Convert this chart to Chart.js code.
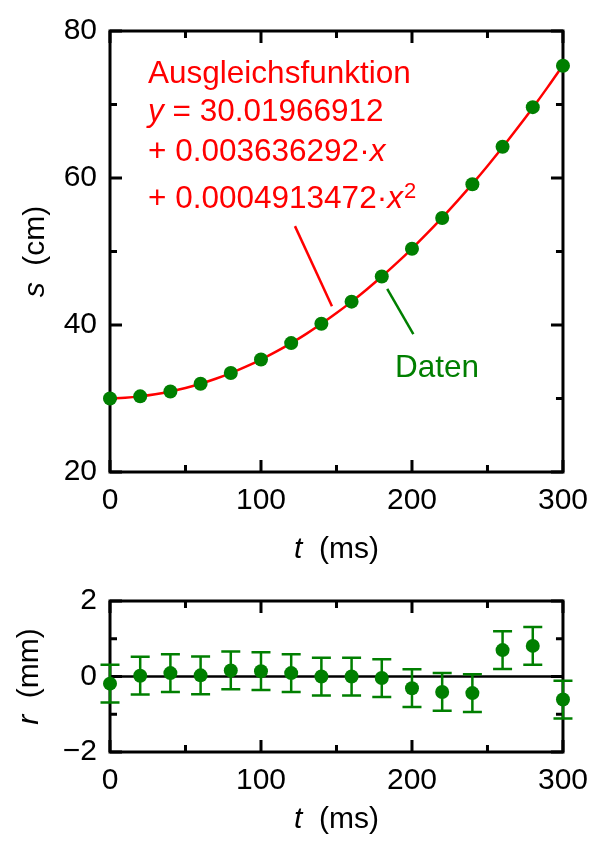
<!DOCTYPE html>
<html>
<head>
<meta charset="utf-8">
<script src="https://cdn.jsdelivr.net/npm/chart.js@4.4.1/dist/chart.umd.min.js"></script>
<style>
  html, body { margin: 0; padding: 0; background: #fff; }
  .panel { position: absolute; left: 0; width: 599px; }
  #top-panel { top: 0; height: 570px; }
  #bottom-panel { top: 570px; height: 271px; }
</style>
</head>
<body>
<div id="top-panel" class="panel"><canvas id="top-chart"></canvas></div>
<div id="bottom-panel" class="panel"><canvas id="bottom-chart"></canvas></div>
<script>
const FONT = '"Liberation Sans", Arial, Helvetica, sans-serif';
const GREEN = '#007f00';
const RED = '#ff0000';

// Messpunkte
const times = [0, 20, 40, 60, 80, 100, 120, 140, 160, 180, 200, 220, 240, 260, 280, 300];
const distance = [30.00, 30.29, 30.96, 32.01, 33.47, 35.31, 37.54, 40.16, 43.18, 46.59,
                  50.37, 54.56, 59.15, 64.25, 69.64, 75.27];
// Residuen in mm, mit Fehler
const residual = [-0.19, 0.02, 0.09, 0.03, 0.16, 0.14, 0.09, 0.00, 0.00, -0.04,
                  -0.31, -0.41, -0.44, 0.70, 0.81, -0.61];
const residualErr = [0.5, 0.5, 0.5, 0.5, 0.5, 0.5, 0.5, 0.5, 0.5, 0.5, 0.5, 0.5, 0.5, 0.5, 0.5, 0.5];

// Ausgleichskurve (Stützstellen)
const fitTimes = [0, 10, 20, 30, 40, 50, 60, 70, 80, 90, 100, 110, 120, 130, 140, 150,
                  160, 170, 180, 190, 200, 210, 220, 230, 240, 250, 260, 270, 280, 290, 300];
const fitValues = [30.020, 30.105, 30.289, 30.571, 30.951, 31.430, 32.007, 32.682, 33.455, 34.327,
                   35.297, 36.365, 37.531, 38.796, 40.159, 41.620, 43.180, 44.838, 46.594, 48.448,
                   50.401, 52.452, 54.601, 56.848, 59.194, 61.638, 64.180, 66.821, 69.559, 72.396, 75.332];

// Achsen
const tMajor = [0, 100, 200, 300];
const tMinor = [50, 150, 250];
const sMajor = [20, 40, 60, 80];
const sMinor = [30, 50, 70];
const rMajor = [-2, 0, 2];
const rMinor = [-1, 1];

const fitLabel = {
  t: 25.2,
  lines: [
    { s: 72.96, parts: [['Ausgleichsfunktion', false]] },
    { s: 67.79, parts: [['y', true], [' = 30.01966912', false]] },
    { s: 62.35, parts: [['+ 0.003636292·', false], ['x', true]] },
    { s: 55.91, parts: [['+ 0.0004913472·', false], ['x', true]], sup: '2' },
  ],
};

function fmtTick(v) {
  return v < 0 ? '\u2212' + Math.abs(v) : String(v);
}

function drawParts(ctx, parts, x, y, size, align) {
  let w = 0;
  parts.forEach(([txt, it]) => {
    ctx.font = `${it ? 'italic ' : ''}${size}px ${FONT}`;
    w += ctx.measureText(txt).width;
  });
  let cx = align === 'center' ? x - w / 2 : x;
  parts.forEach(([txt, it]) => {
    ctx.font = `${it ? 'italic ' : ''}${size}px ${FONT}`;
    ctx.fillText(txt, cx, y);
    cx += ctx.measureText(txt).width;
  });
  return cx;
}

const framePlugin = {
  id: 'frame',
  beforeDatasetsDraw(chart, args, opts) {
    const { ctx, chartArea: a, scales: { x, y } } = chart;
    ctx.save();
    ctx.strokeStyle = '#000';
    ctx.lineWidth = 3;
    ctx.strokeRect(a.left, a.top, a.right - a.left, a.bottom - a.top);
    ctx.beginPath();
    const xTicks = (vals, len) => vals.forEach(v => {
      const px = x.getPixelForValue(v);
      ctx.moveTo(px, a.bottom); ctx.lineTo(px, a.bottom - len);
      ctx.moveTo(px, a.top); ctx.lineTo(px, a.top + len);
    });
    const yTicks = (vals, len) => vals.forEach(v => {
      const py = y.getPixelForValue(v);
      ctx.moveTo(a.left, py); ctx.lineTo(a.left + len, py);
      ctx.moveTo(a.right, py); ctx.lineTo(a.right - len, py);
    });
    xTicks(tMajor, 12); xTicks(tMinor, 7);
    yTicks(opts.yMajor, 12); yTicks(opts.yMinor, 7);
    ctx.stroke();

    if (opts.zeroLine) {
      const py = y.getPixelForValue(0);
      ctx.lineWidth = 2.5;
      ctx.beginPath();
      ctx.moveTo(a.left, py); ctx.lineTo(a.right, py);
      ctx.stroke();
    }
    ctx.restore();
  },
  afterDraw(chart, args, opts) {
    const { ctx, chartArea: a } = chart;
    ctx.save();
    ctx.fillStyle = '#000';
    ctx.textBaseline = 'middle';
    drawParts(ctx, [['t', true], ['  (ms)', false]], (a.left + a.right) / 2, a.bottom + opts.xTitleGap, 30, 'center');
    ctx.translate(opts.yTitleX, (a.top + a.bottom) / 2);
    ctx.rotate(-Math.PI / 2);
    drawParts(ctx, opts.yTitle, 0, 0, 30, 'center');
    ctx.restore();
  },
};

const errorBarPlugin = {
  id: 'errorBars',
  beforeDatasetsDraw(chart) {
    const { ctx, scales: { x, y } } = chart;
    ctx.save();
    ctx.strokeStyle = GREEN;
    ctx.lineWidth = 2.5;
    ctx.beginPath();
    times.forEach((t, i) => {
      const px = x.getPixelForValue(t);
      const top = y.getPixelForValue(residual[i] + residualErr[i]);
      const bot = y.getPixelForValue(residual[i] - residualErr[i]);
      ctx.moveTo(px, top); ctx.lineTo(px, bot);
      ctx.moveTo(px - 9.5, top); ctx.lineTo(px + 9.5, top);
      ctx.moveTo(px - 9.5, bot); ctx.lineTo(px + 9.5, bot);
    });
    ctx.stroke();
    ctx.restore();
  },
};

const annotationPlugin = {
  id: 'annotations',
  afterDatasetsDraw(chart) {
    const { ctx, scales: { x, y } } = chart;
    ctx.save();
    ctx.textBaseline = 'alphabetic';

    ctx.fillStyle = RED;
    fitLabel.lines.forEach(line => {
      const end = drawParts(ctx, line.parts, x.getPixelForValue(fitLabel.t), y.getPixelForValue(line.s), 31.5, 'left');
      if (line.sup) {
        ctx.font = `22px ${FONT}`;
        ctx.fillText(line.sup, end + 1, y.getPixelForValue(line.s) - 10);
      }
    });

    ctx.lineWidth = 2.5;
    ctx.strokeStyle = RED;
    ctx.beginPath();
    ctx.moveTo(x.getPixelForValue(122.5), y.getPixelForValue(53.45));
    ctx.lineTo(x.getPixelForValue(147), y.getPixelForValue(42.56));
    ctx.stroke();

    ctx.strokeStyle = GREEN;
    ctx.beginPath();
    ctx.moveTo(x.getPixelForValue(183.6), y.getPixelForValue(44.9));
    ctx.lineTo(x.getPixelForValue(200.9), y.getPixelForValue(38.75));
    ctx.stroke();

    ctx.fillStyle = GREEN;
    drawParts(ctx, [['Daten', false]], x.getPixelForValue(188.7), y.getPixelForValue(32.87), 31.5, 'left');
    ctx.restore();
  },
};

function axisX(height) {
  return {
    type: 'linear', min: 0, max: 300,
    afterBuildTicks: s => { s.ticks = tMajor.map(v => ({ value: v })); },
    afterFit: s => { s.height = height; },
    grid: { display: false, drawTicks: false },
    border: { display: false },
    ticks: { color: '#000', font: { family: FONT, size: 30 }, padding: 11, maxRotation: 0, autoSkip: false },
  };
}

function axisY(min, max, major) {
  return {
    type: 'linear', min, max,
    afterBuildTicks: s => { s.ticks = major.map(v => ({ value: v })); },
    afterFit: s => { s.width = 110; },
    grid: { display: false, drawTicks: false },
    border: { display: false },
    ticks: { color: '#000', font: { family: FONT, size: 30 }, padding: 13, callback: fmtTick },
  };
}

Chart.register(framePlugin);

const topChart = new Chart(document.getElementById('top-chart'), {
  type: 'scatter',
  data: {
    datasets: [
      {
        data: times.map((t, i) => ({ x: t, y: distance[i] })),
        pointRadius: 7,
        pointBackgroundColor: GREEN,
        pointBorderWidth: 0,
        clip: false,
      },
      {
        data: fitTimes.map((t, i) => ({ x: t, y: fitValues[i] })),
        showLine: true,
        borderColor: RED,
        borderWidth: 2.5,
        pointRadius: 0,
        cubicInterpolationMode: 'monotone',
        clip: false,
      },
    ],
  },
  options: {
    responsive: true,
    maintainAspectRatio: false,
    animation: false,
    layout: { padding: { left: 0, top: 20, right: 36, bottom: 0 } },
    plugins: {
      legend: { display: false },
      tooltip: { enabled: false },
      frame: { yMajor: sMajor, yMinor: sMinor, xTitleGap: 78, yTitleX: 36, yTitle: [['s', true], ['  (cm)', false]] },
    },
    scales: { x: axisX(98), y: axisY(20, 80, sMajor) },
  },
  plugins: [annotationPlugin],
});

const bottomChart = new Chart(document.getElementById('bottom-chart'), {
  type: 'scatter',
  data: {
    datasets: [{
      data: times.map((t, i) => ({ x: t, y: residual[i] })),
      pointRadius: 7,
      pointBackgroundColor: GREEN,
      pointBorderWidth: 0,
      clip: false,
    }],
  },
  options: {
    responsive: true,
    maintainAspectRatio: false,
    animation: false,
    layout: { padding: { left: 0, top: 30, right: 36, bottom: 0 } },
    plugins: {
      legend: { display: false },
      tooltip: { enabled: false },
      frame: { yMajor: rMajor, yMinor: rMinor, zeroLine: true, xTitleGap: 68, yTitleX: 30, yTitle: [['r', true], ['  (mm)', false]] },
    },
    scales: { x: axisX(89), y: axisY(-2, 2, rMajor) },
  },
  plugins: [errorBarPlugin],
});
</script>
</body>
</html>
